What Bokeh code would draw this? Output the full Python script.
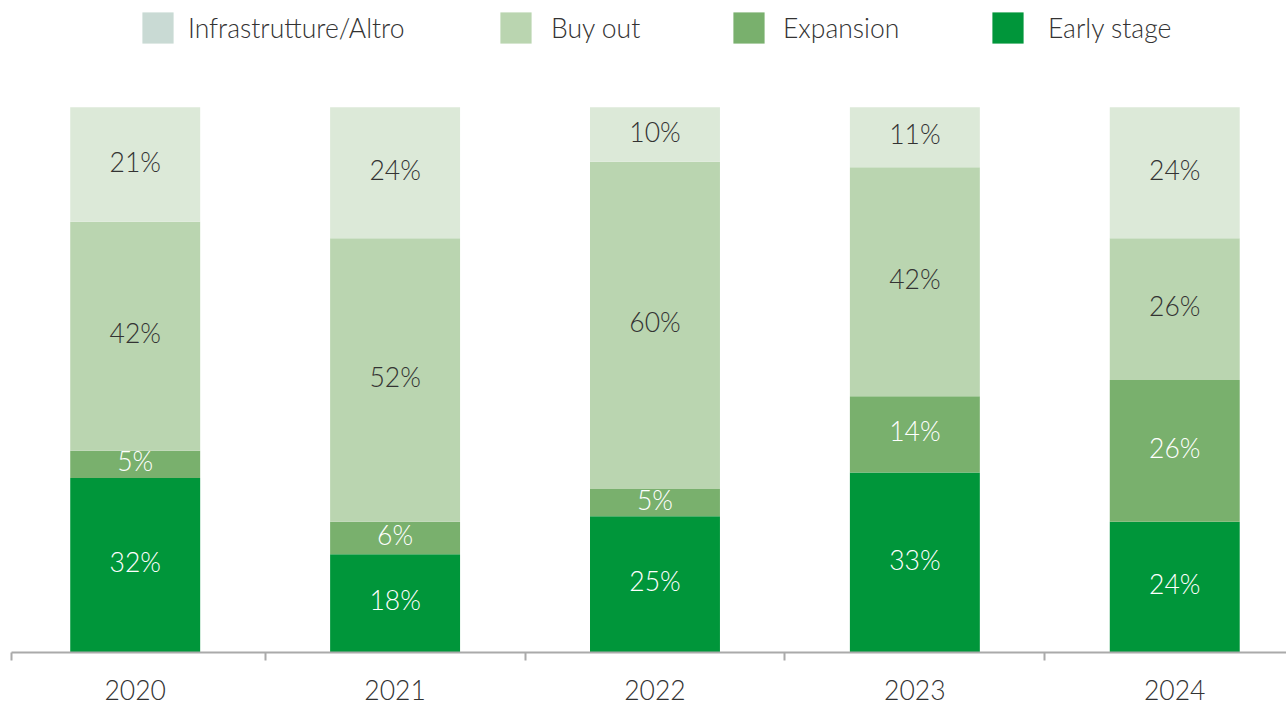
import numpy as np
from bokeh.plotting import figure
from bokeh.models import ColumnDataSource, Legend, LegendItem, FixedTicker, Range1d
from bokeh.core.properties import value
from bokeh.embed import file_html
from bokeh.resources import INLINE

years = ["2020", "2021", "2022", "2023", "2024"]
early = [32, 18, 25, 33, 24]
expansion = [5, 6, 5, 14, 26]
buyout = [42, 52, 60, 42, 26]
infra = [21, 24, 10, 11, 24]

series = ["early", "expansion", "buyout", "infra"]
labels = ["Early stage", "Expansion", "Buy out", "Infrastrutture/Altro"]
colors = ["#00963a", "#79b06d", "#bad5b0", "#dce9d8"]
legend_infra_color = "#c9dad4"
text_colors = ["#ffffff", "#ffffff", "#333333", "#333333"]

FONT = "Lato Light"
FS = "26.5px"

x = list(range(len(years)))
source = ColumnDataSource(dict(x=x, early=early, expansion=expansion, buyout=buyout, infra=infra,
                               zero=[0] * len(years)))

X0 = -0.476
p = figure(width=1286, height=704, output_backend="svg", toolbar_location=None,
           x_range=Range1d(X0, 4.43), y_range=Range1d(0, 119.6),
           min_border_left=11, min_border_right=0, min_border_top=0, min_border_bottom=52)
p.outline_line_color = None
p.grid.visible = False
p.yaxis.visible = False

rs = p.vbar_stack(series, x="x", width=0.5, fill_color=colors, line_color=None, source=source)

# value labels
vals = np.array([early, expansion, buyout, infra], dtype=float)
bottoms = np.vstack([np.zeros(len(years)), np.cumsum(vals, axis=0)[:-1]])
for i, s in enumerate(series):
    mids = bottoms[i] + vals[i] / 2
    p.text(x=x, y=list(mids), text=[f"{int(v)}%" for v in vals[i]],
           text_align="center", text_baseline="middle", y_offset=-3,
           text_font=value(FONT), text_font_size=FS, text_color=text_colors[i])

# zero-height proxy renderer so the legend swatch can use its own colour
dummy = p.vbar(x="x", bottom="zero", top="zero", width=0.5, fill_color=legend_infra_color,
               line_color=None, source=source)

legend_renderers = [dummy, rs[2], rs[1], rs[0]]
legend_labels = [labels[3], labels[2], labels[1], labels[0]]
legend_x = [127, 485, 718, 977]
legend_standoff = [11, 16, 15, 21]
for r, lab, lx, so in zip(legend_renderers, legend_labels, legend_x, legend_standoff):
    lg = Legend(items=[LegendItem(label=lab, renderers=[r])], orientation="horizontal",
                location=(lx, 605), glyph_width=39, glyph_height=39, label_standoff=so,
                padding=0, margin=0, border_line_color=None, background_fill_alpha=0,
                label_text_font=FONT, label_text_font_size=FS, label_text_color="#333333",
                label_height=39)
    p.add_layout(lg)

ax = p.xaxis[0]
ax.ticker = FixedTicker(ticks=x, minor_ticks=[X0, 0.5, 1.5, 2.5, 3.5])
ax.major_label_overrides = {i: y for i, y in enumerate(years)}
ax.major_tick_out = 0
ax.major_tick_in = 0
ax.minor_tick_out = 8
ax.minor_tick_in = 0
ax.minor_tick_line_color = "#aaaaaa"
ax.minor_tick_line_width = 2
ax.axis_line_color = "#aaaaaa"
ax.axis_line_width = 2
ax.major_label_standoff = 19
ax.major_label_text_font = FONT
ax.major_label_text_font_size = FS
ax.major_label_text_color = "#333333"

open("out.html", "w").write(file_html(p, INLINE))
